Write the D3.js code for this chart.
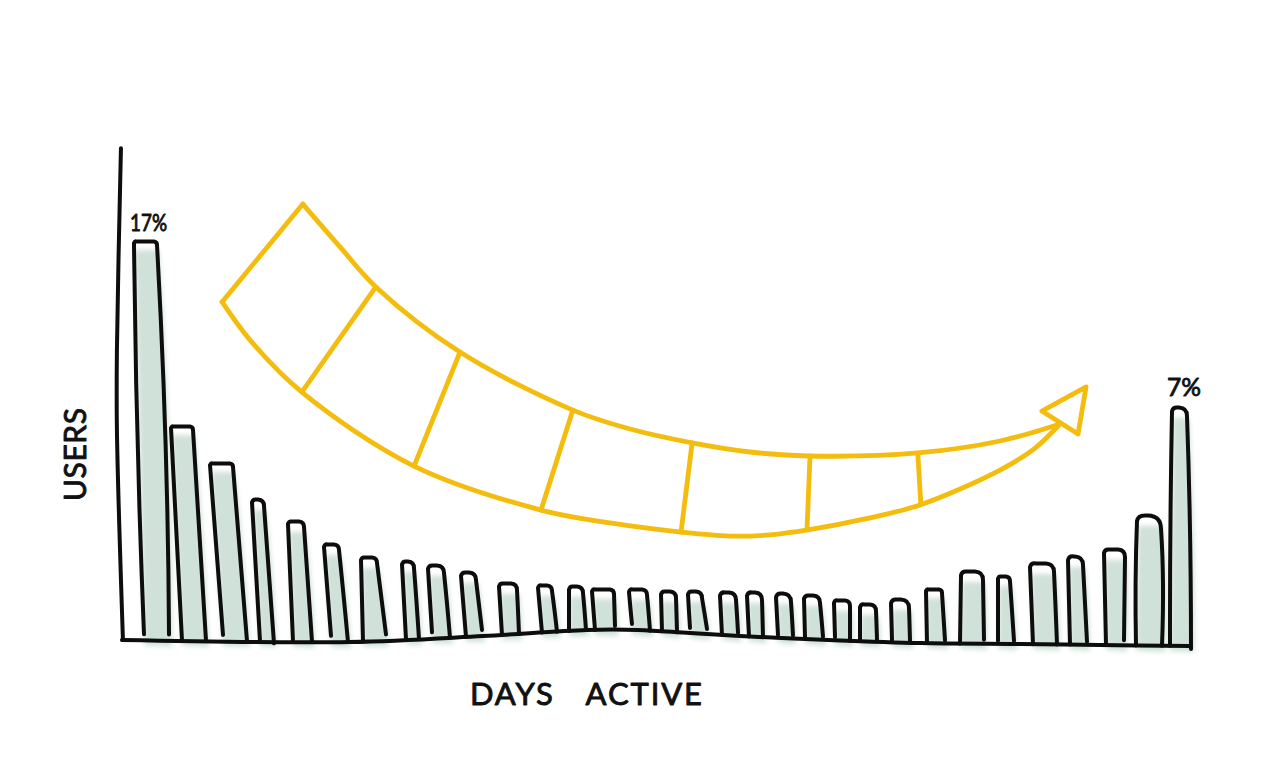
<!DOCTYPE html>
<html><head><meta charset="utf-8">
<script src="https://cdn.jsdelivr.net/npm/d3@7/dist/d3.min.js"></script>
<style>html,body{margin:0;padding:0;background:#fff}svg{display:block}
text{font-family:"Lato","Open Sans",sans-serif;fill:#111;stroke:#111;stroke-width:0.9px;stroke-linejoin:round}</style></head>
<body><svg id="c" width="1280" height="764"></svg>
<script>
// ---- values (day index, share of users on the drawn axis)
const days = d3.range(0, 32);
const users = [17.0,9.10,7.52,5.98,5.04,4.06,3.50,3.33,3.16,2.86,2.39,2.31,2.26,2.14,2.14,2.05,2.05,2.01,2.01,1.96,1.88,1.67,1.50,1.71,2.14,2.90,2.69,3.25,3.55,3.84,5.30,9.91];
const barLabels = [{bar:0,text:"17%"},{bar:31,text:"7%"}];
const xTitle = "DAYS ACTIVE", yTitle = "USERS";

// the wavy x axis and the leaning y axis, in chart units
const baseDays = [-0.36,6.45,10.42,13.52,15.04,16.6,18.66,20.72,23.46,26.45,28.84,31.52];
const baseUsers = [0,-0.085,0.17,0.43,0.43,0.30,0.13,0,-0.13,-0.17,-0.21,-0.26];
const yAxisDays = [-0.39,-0.51,-0.51,-0.33];
const yAxisUsers = [21.0,12.39,8.97,0];

// the yellow arrow, in chart units
const upperDays = [5.04,6.15,7.22,9.73,13.10,14.81,16.66,18.39,20.12,23.40,25.85,27.64];
const upperUsers = [18.62,16.79,15.08,12.30,9.82,9.01,8.42,8.03,7.86,7.99,8.50,9.23];
const lowerDays = [2.63,3.46,5.01,8.36,12.15,14.21,16.33,17.79,18.99,20.12,21.82,23.46,25.85,26.9,27.64];
const lowerUsers = [14.44,12.82,10.59,7.43,5.55,5.0,4.61,4.44,4.49,4.70,5.17,5.77,7.26,8.2,9.23];
const ribTopDays = [7.22,9.73,13.10,16.66,20.18,23.40];
const ribTopUsers = [15.08,12.30,9.82,8.42,7.86,7.90];
const ribEndDays = [5.01,8.36,12.15,16.33,20.09,23.49];
const ribEndUsers = [10.59,7.43,5.55,4.61,4.75,5.77];
const headDays = [28.42,27.10,28.18];
const headUsers = [10.81,9.78,8.80];

// ---- hand-drawing irregularity, kept apart from the values (pixels)
const drift = [0,3.5,9,17.5,20,22.5,26,33.5,26,25.5,30,35.5,33,22.5,26,24.5,18,16.5,10,5.5,0,-3.5,-11,-13.5,-12,-10.5,-7,-8.5,-4,-1.5,-2,-0.5];
const widthTop = [23,22,23,12,16,15,16,12,16,15,18,14,14,22,18,15,14,16,15,15,16,16,16,18,16,22,12,24,15,21,24,15];
const slantL = [10,11,13,8,5,7,2,4,4,5,3,4,0,3,3,1,2,2,2,2,1,1,0,1,1,-1,0,3,2,2,-1,-2];
const slantR = [12,13,14,10,8,9,9,5,6,6,2,5,3,1,3,1,5,2,1,2,3,0,1,1,3,1,4,3,4,-1,1,4];
const shortL = [6,0,6,0,0,6,0,0,6,0,0,0,0,0,6,0,5,0,0,3,2,3,0,2,0,0,3,0,0,0,0,0];
const shortR = [6,0,0,-2,0,0,6,0,0,6,0,0,0,4,0,0,5,3,0,3,3,0,2,2,3,4,3,0,3,5,0,-3];
const corner = [3,3,3,6,5,5,5,6,7,7,6,5,6,4,5,6,6,7,7,8,7,5,6,8,3,8,4,8,8,7,13,8];
const bulge = [5,0,0,0,0,0,0,0,0,0,0,0,0,0,0,0,0,0,0,0,0,0,0,0,0,0,0,0,0,0,3,2];

const INK = "#0d0d0d", YELLOW = "#f4bc0c", WASH = "#cfe1d8";

const x = d3.scaleLinear().domain([0,32]).range([134,1206]);
const y = d3.scaleLinear().domain([0,17]).range([640,242]);
const baseAt = d3.scaleLinear().domain(baseDays).range(baseUsers);

const svg = d3.select("#c");
const defs = svg.append("defs");
defs.append("filter").attr("id","wash").attr("x","-30%").attr("width","160%").attr("y","-10%").attr("height","120%")
  .append("feGaussianBlur").attr("stdDeviation",2.4);

const bars = days.map((d,i)=>{
  const tl = x(d)+drift[i], tr = tl+widthTop[i], t = y(users[i]);
  const bl = tl+slantL[i], br = tr+slantR[i];
  const bly = y(baseAt(x.invert(bl))), bry = y(baseAt(x.invert(br)));
  return {i,tl,tr,t,bl,br,bly,bry};
});

// watercolour wash
svg.append("g").attr("filter","url(#wash)").selectAll("path").data(bars).join("path")
  .attr("fill",WASH)
  .attr("d",b=>{
    const p=d3.path();
    p.moveTo(b.tl+1,b.t+Math.min(10,corner[b.i]+5));
    p.lineTo(b.tr+2,b.t+Math.min(10,corner[b.i]+5));
    p.quadraticCurveTo((b.tr+b.br)/2+bulge[b.i]+4,(b.t+b.bry)/2,b.br+3,b.bry+6);
    p.lineTo(b.bl,b.bly+5);
    p.closePath();
    return p.toString();
  });

// bar outlines
svg.append("g").attr("fill","none").attr("stroke",INK).attr("stroke-width",4)
  .attr("stroke-linecap","round").attr("stroke-linejoin","round")
  .selectAll("path").data(bars).join("path")
  .attr("d",b=>{
    const r=corner[b.i], p=d3.path();
    p.moveTo(b.bl,b.bly-shortL[b.i]);
    p.quadraticCurveTo((b.tl+b.bl)/2-bulge[b.i]*0.6,(b.t+b.bly)/2,b.tl,b.t+r*0.4);
    p.quadraticCurveTo(b.tl+1,b.t-1,b.tl+r*0.7,b.t-0.5);
    p.lineTo(b.tr-r,b.t-0.5);
    p.quadraticCurveTo(b.tr,b.t,b.tr,b.t+r);
    p.quadraticCurveTo((b.tr+b.br)/2+bulge[b.i],(b.t+b.bry)/2,b.br,b.bry-shortR[b.i]);
    return p.toString();
  });

// axes
const hand = d3.line().x(p=>x(p[0])).y(p=>y(p[1])).curve(d3.curveCatmullRom.alpha(0.5));
const straight = d3.line().x(p=>x(p[0])).y(p=>y(p[1]));
const g = svg.append("g").attr("fill","none").attr("stroke",INK).attr("stroke-width",4).attr("stroke-linecap","round");
g.append("path").attr("d",hand(d3.zip(baseDays,baseUsers)));
g.append("path").attr("d",hand(d3.zip(yAxisDays,yAxisUsers)));

// arrow
const a = svg.append("g").attr("fill","none").attr("stroke",YELLOW).attr("stroke-width",4.8)
  .attr("stroke-linecap","round").attr("stroke-linejoin","round");
a.append("path").attr("d",hand(d3.zip(upperDays,upperUsers)));
a.append("path").attr("d",hand(d3.zip(lowerDays,lowerUsers)));
a.append("path").attr("d",straight([[upperDays[0],upperUsers[0]],[lowerDays[0],lowerUsers[0]]]));
a.selectAll("path.rib").data(ribTopDays).join("path").attr("class","rib")
  .attr("d",(d,i)=>straight([[ribTopDays[i],ribTopUsers[i]],[ribEndDays[i],ribEndUsers[i]]]));
a.append("path").attr("d",straight.curve(d3.curveLinearClosed)(d3.zip(headDays,headUsers)));

// text
svg.selectAll("text.lab").data(barLabels).join("text").attr("class","lab")
  .attr("x",d=>d.bar?x(days[d.bar])+drift[d.bar]-5:x(days[d.bar])+drift[d.bar]-4)
  .attr("y",d=>y(users[d.bar])-(d.bar?12:11))
  .attr("font-size",d=>d.bar?25:23)
  .attr("textLength",d=>d.bar?34:37).attr("lengthAdjust","spacingAndGlyphs")
  .text(d=>d.text);
svg.append("text").attr("x",470).attr("y",705).attr("font-size",31)
  .attr("textLength",232).attr("lengthAdjust","spacing").style("word-spacing","22px").text(xTitle);
svg.append("text").attr("transform","translate(86,501) rotate(-90)").attr("font-size",30)
  .attr("textLength",93).attr("lengthAdjust","spacing").text(yTitle);
</script></body></html>
